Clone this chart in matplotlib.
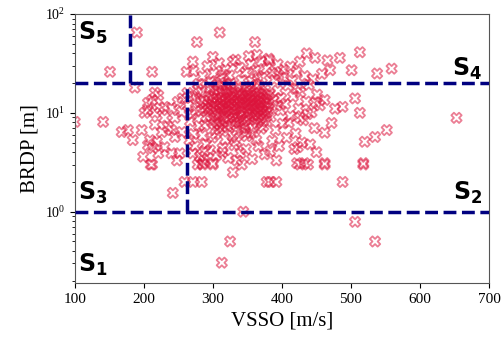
import numpy as np
import matplotlib
matplotlib.use("Agg")
import matplotlib.pyplot as plt

plt.rcParams['font.family'] = ['Liberation Serif', 'DejaVu Serif']
plt.rcParams['mathtext.fontset'] = 'custom'
plt.rcParams['mathtext.rm'] = 'Liberation Serif'
plt.rcParams['mathtext.it'] = 'Liberation Serif:italic'
plt.rcParams['mathtext.bf'] = 'DejaVu Sans:bold'

# dense cluster (VSSO m/s, BRDP m)
core = [
    (292,12.1),(297,8.4),(301,15.3),(305,10.2),(309,6.8),(312,13.7),(316,9.1),(319,17.2),(322,11.4),(326,7.6),
    (329,14.8),(333,10.7),(336,8.9),(340,16.1),(343,12.5),(347,6.3),(350,11.0),(354,18.4),(357,9.6),(361,13.2),
    (364,7.9),(368,15.7),(371,10.4),(375,12.8),(378,8.2),(295,17.9),(299,5.6),(303,11.8),(307,14.2),(311,9.8),
    (314,7.1),(318,12.9),(321,16.6),(325,10.1),(328,5.9),(332,13.5),(335,11.7),(339,9.3),(342,14.9),(346,7.4),
    (349,16.9),(353,10.9),(356,12.2),(360,8.6),(363,19.1),(367,11.3),(370,6.9),(374,14.1),(377,9.9),(381,12.4),
    (290,9.2),(294,14.6),(298,10.9),(302,7.7),(306,19.4),(310,12.0),(313,15.9),(317,8.1),(320,10.5),(324,13.9),
    (327,17.6),(331,9.0),(334,6.6),(338,12.6),(341,10.0),(345,15.1),(348,8.5),(352,13.0),(355,6.2),(359,11.6),
    (362,16.3),(366,9.4),(369,13.6),(373,7.3),(376,17.0),(300,13.1),(308,9.5),(315,11.1),(323,8.8),(330,12.3),
    (337,15.5),(344,10.3),(351,14.4),(358,7.0),(365,12.7),(372,10.6),(379,15.0),(304,6.1),(318,5.4),(334,5.1),
    (349,5.8),(363,5.3),(296,20.5),(311,22.1),(326,19.8),(341,21.3),(356,20.9),(371,22.6),(286,13.4),(288,7.5),
    (284,16.2),(283,10.3),(313,18.7),(347,18.0),(360,14.8),(327,12.0),(339,7.9),(353,9.2),(319,13.3),(305,12.6),
    (293,10.6),(299,13.9),(303,9.0),(308,16.8),(312,11.2),(316,14.3),(321,7.3),(324,12.4),(329,9.7),(332,16.0),
    (336,13.2),(340,11.3),(344,8.2),(347,13.8),(351,9.9),(355,15.0),(358,11.9),(362,10.1),(366,14.4),(369,8.8),
    (373,11.8),(377,13.7),(380,10.3),(297,11.5),(306,8.0),(314,12.4),(322,15.6),(331,11.0),(338,14.0),(346,11.9),
    (354,13.6),(361,9.1),(368,12.3),(375,9.4),(302,16.9),(317,10.4),(333,8.2),(350,12.6),(364,11.0),(378,11.4),
    (310,7.6),(326,14.4),(342,7.0),(357,14.0),(372,15.8),(289,11.2),(320,19.0),(336,18.2),(352,16.2),(367,17.8),
]
left_edge = [
    (264,11.8),(267,8.2),(270,14.7),(272,6.1),(275,10.5),(278,17.3),(280,7.4),(282,12.9),(266,5.3),(274,4.6),
    (279,19.6),(285,5.9),(288,4.1),(269,9.6),(276,13.8),(263,15.9),(281,3.6),(287,3.3),(271,3.9),(290,4.8),
]
right_side = [
    (384,9.1),(388,13.4),(391,6.7),(394,16.8),(398,10.6),(401,7.8),(405,12.3),(409,18.9),(412,9.3),(416,14.6),
    (420,6.2),(424,11.1),(427,16.2),(431,8.4),(435,13.0),(439,19.2),(443,10.1),(447,7.0),(451,15.3),(455,11.9),
    (386,5.2),(396,4.6),(407,5.6),(418,4.3),(429,5.0),(441,4.8),(389,21.7),(402,22.9),(415,21.1),(433,23.6),
    (445,21.9),(458,24.8),(393,11.8),(410,8.0),(422,17.6),(437,9.7),(449,12.8),(382,15.5),(399,14.1),(426,8.9),
    (462,13.5),(477,11.0),(488,11.5),(506,14.0),(513,10.0),(472,7.9),(462,6.3),(552,6.7),(535,5.7),(520,5.1),
    (450,4.0),(423,4.5),(653,8.9),(518,3.1),(433,3.1),(462,3.1),
]
upper = [
    (272,26.3),(285,23.4),(292,29.7),(301,25.1),(309,31.8),(318,27.4),(324,23.9),(333,34.5),(339,28.6),(347,25.6),
    (355,30.9),(362,26.8),(370,33.2),(378,28.1),(386,25.3),(394,31.0),(403,27.2),(412,29.4),(421,26.0),(300,36.8),
    (352,37.5),(381,35.3),(315,24.3),(365,23.7),(395,24.2),
    (190,65),(151,26),(212,26),(262,26),(277,52),(310,65),(361,52),(271,33),(329,33),(364,38.6),(382,34),
    (436,40),(448,36),(484,36),(513,41),(501,27),(538,25),(559,28),(466,34),(470,27),(426,33),
]
lower = [
    (296,4.2),(305,3.7),(314,4.4),(322,3.5),(331,4.7),(340,3.9),(348,4.3),(357,3.4),(366,4.6),(375,3.8),(383,4.1),(392,3.3),
    (383,2.0),(378,2.0),(392,2.0),(488,2.0),(506,0.79),(535,0.50),(426,3.0),(438,3.0),(462,3.0),(518,3.0),
    (313,0.305),(325,0.50),(344,1.0),(212,3.0),(210,3.0),(242,1.55),(259,2.0),(271,2.0),(284,2.0),(278,3.0),(285,3.0),
    (300,3.0),(329,2.5),(248,3.3),(342,3.0),(335,3.3),(314,4.0),(300,3.1),(285,3.1),(422,3.1),
]
left_scatter = [
    (100,8.1),(141,8.1),(187,18),(168,6.4),(177,6.7),(197,6.7),(184,5.3),(209,5.3),(219,5.1),(226,6.4),
    (235,7.2),(240,6.7),(230,4.5),(206,4.7),(213,4.4),(216,16),(212,13.5),(206,12.6),(221,15),(223,11.2),
    (230,11.5),(240,11.2),(249,12.9),(256,14),(230,8.9),(216,10),(206,10.7),(201,10),(245,8.9),(255,10.2),
    (216,7.6),(245,5.7),(255,6.4),(240,3.9),(252,3.9),(221,3.9),(199,3.6),
]

pts = core + left_edge + right_side + upper + lower + left_scatter
vsso = np.array([p[0] for p in pts], dtype=float)
brdp = np.array([p[1] for p in pts], dtype=float)

fig = plt.figure(figsize=(5.02, 3.41), dpi=100)
ax = fig.add_axes([0.149, 0.170, 0.825, 0.789])

ax.scatter(vsso, brdp, marker='X', s=55, facecolors='none', edgecolors='crimson',
           linewidths=1.3, alpha=0.55, zorder=2)

navy = '#000080'
ax.axhline(20, color=navy, ls='--', lw=2.5, zorder=3)
ax.axhline(1, color=navy, ls='--', lw=2.5, zorder=3)
ax.plot([180, 180], [20, 100], color=navy, ls='--', lw=2.5, zorder=3)
ax.plot([262, 262], [1, 20], color=navy, ls='--', lw=2.5, zorder=3)

ax.set_yscale('log')
ax.set_xlim(100, 700)
ax.set_ylim(0.19, 100)
ax.set_xticks([100, 200, 300, 400, 500, 600, 700])
ax.tick_params(axis='x', labelsize=11)
ax.tick_params(axis='y', labelsize=10)
ax.set_xlabel('VSSO [m/s]', fontsize=15)
ax.set_ylabel('BRDP [m]', fontsize=15)
for s in ax.spines.values():
    s.set_color('#555555')

kw = dict(fontsize=17, zorder=4)
ax.text(105, 64, r'$\mathbf{S_5}$', va='center', ha='left', **kw)
ax.text(690, 28, r'$\mathbf{S_4}$', va='center', ha='right', **kw)
ax.text(105, 1.55, r'$\mathbf{S_3}$', va='center', ha='left', **kw)
ax.text(690, 1.55, r'$\mathbf{S_2}$', va='center', ha='right', **kw)
ax.text(105, 0.29, r'$\mathbf{S_1}$', va='center', ha='left', **kw)

fig.savefig('out.png', dpi=100)
